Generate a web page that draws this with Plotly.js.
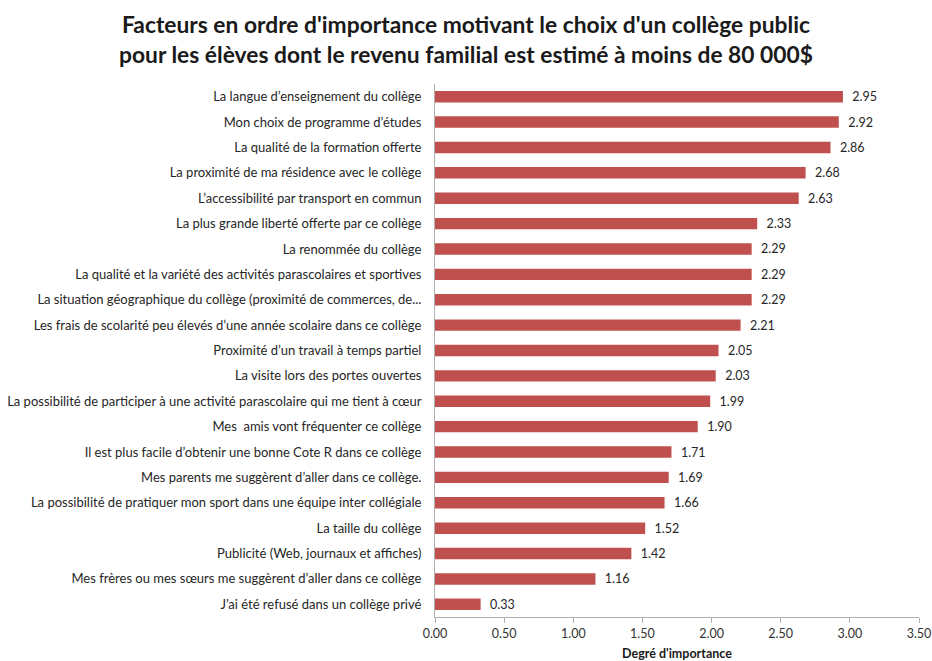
<!DOCTYPE html>
<html>
<head>
<meta charset="utf-8">
<script src="https://cdn.plot.ly/plotly-3.0.1.min.js"></script>
<style>html,body{margin:0;padding:0;background:#fff;}#chart{width:932px;height:661px;}</style>
</head>
<body>
<div id="chart"></div>
<script>
const categories = [
  "La langue d’enseignement du collège",
  "Mon choix de programme d’études",
  "La qualité de la formation offerte",
  "La proximité de ma résidence avec le collège",
  "L’accessibilité par transport en commun",
  "La plus grande liberté offerte par ce collège",
  "La renommée du collège",
  "La qualité et la variété des activités parascolaires et sportives",
  "La situation géographique du collège (proximité de commerces, de...",
  "Les frais de scolarité peu élevés d’une année scolaire dans ce collège",
  "Proximité d’un travail à temps partiel",
  "La visite lors des portes ouvertes",
  "La possibilité de participer à une activité parascolaire qui me tient à cœur",
  "Mes  amis vont fréquenter ce collège",
  "Il est plus facile d’obtenir une bonne Cote R dans ce collège",
  "Mes parents me suggèrent d’aller dans ce collège.",
  "La possibilité de pratiquer mon sport dans une équipe inter collégiale",
  "La taille du collège",
  "Publicité (Web, journaux et affiches)",
  "Mes frères ou mes sœurs me suggèrent d’aller dans ce collège",
  "J’ai été refusé dans un collège privé"
];
const values = [2.95, 2.92, 2.86, 2.68, 2.63, 2.33, 2.29, 2.29, 2.29, 2.21, 2.05, 2.03, 1.99, 1.90, 1.71, 1.69, 1.66, 1.52, 1.42, 1.16, 0.33];
const xTickValues = [0, 0.5, 1, 1.5, 2, 2.5, 3, 3.5];

const fontFam = 'Lato, "Open Sans", sans-serif';
const trace = {
  type: 'bar',
  orientation: 'h',
  x: values,
  y: categories,
  marker: {color: '#c0504d'},
  text: values.map(v => '  ' + v.toFixed(2)),
  textposition: 'outside',
  constraintext: 'none',
  cliponaxis: false,
  textfont: {family: fontFam, size: 12.5, color: '#262626'},
  hoverinfo: 'x+y'
};
const layout = {
  width: 932, height: 661,
  margin: {l: 435, r: 13, t: 84, b: 44},
  paper_bgcolor: '#ffffff', plot_bgcolor: '#ffffff',
  bargap: 0.55,
  showlegend: false,
  title: {
    text: "<b>Facteurs en ordre d'importance motivant le choix d'un collège public<br>pour les élèves dont le revenu familial est estimé à moins de 80 000$</b>",
    font: {family: fontFam, size: 22.8, color: '#1a1a1a'},
    x: 0.5, xanchor: 'center', xref: 'container',
    y: 0.95, yanchor: 'middle', yref: 'container'
  },
  xaxis: {
    range: [0, 3.5],
    tickvals: xTickValues,
    tickformat: '.2f',
    showgrid: false, zeroline: false,
    showline: true, linecolor: '#b0b0b0', linewidth: 1,
    ticks: 'outside', ticklen: 5, tickcolor: '#b0b0b0',
    tickfont: {family: fontFam, size: 12.5, color: '#333'},
    title: {text: "<b>Degré d'importance</b>", font: {family: fontFam, size: 12.5, color: '#1a1a1a'}, standoff: 9},
    automargin: false
  },
  yaxis: {
    autorange: 'reversed',
    type: 'category',
    showgrid: false, zeroline: false,
    showline: true, linecolor: '#b0b0b0', linewidth: 1,
    ticks: '',
    ticklabelstandoff: 10,
    tickfont: {family: fontFam, size: 13, color: '#262626'},
    automargin: false
  }
};
Plotly.newPlot('chart', [trace], layout, {displayModeBar: false, staticPlot: true});
</script>
</body>
</html>
